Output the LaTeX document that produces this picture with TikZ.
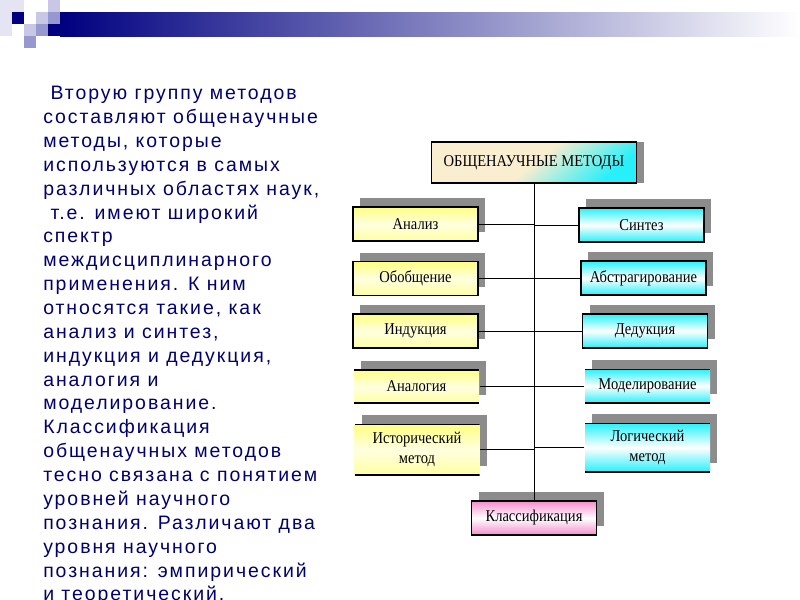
\documentclass[tikz,border=0pt]{standalone}
\usepackage{fontspec}
\setmainfont{Liberation Serif}
\newfontfamily\bodyfont[LetterSpace=10]{Liberation Sans}
\newfontfamily\boxfont[FakeStretch=0.88]{Liberation Serif}
\usetikzlibrary{shadows}

\definecolor{navytext}{RGB}{0,0,110}
\definecolor{navy}{RGB}{0,0,128}
\definecolor{lavlight}{RGB}{200,200,230}
\definecolor{lavmid}{RGB}{152,152,208}
\definecolor{lavpale}{RGB}{228,228,242}
\definecolor{shadowgray}{RGB}{140,140,140}
\definecolor{boxyellow}{RGB}{255,255,130}
\definecolor{boxcyan}{RGB}{40,240,250}
\definecolor{boxpink}{RGB}{244,140,205}
\definecolor{beige}{RGB}{250,238,208}

\begin{document}
\begin{tikzpicture}[x=0.75pt,y=-0.75pt,
    plain box/.style={line width=0.8pt,minimum width=93.75pt,minimum height=25.5pt,inner sep=1pt,align=center,
        font=\boxfont\fontsize{12.4}{15}\selectfont},
    method box/.style={plain box,
        drop shadow={shadow xshift=5.25pt,shadow yshift=6.75pt,fill=shadowgray,opacity=1}},
    left box/.style={method box,draw,top color=boxyellow,bottom color=boxyellow!75,middle color=yellow!12},
    right box/.style={method box,draw,top color=boxcyan,bottom color=boxcyan,middle color=white},
    open box/.style={draw=none,path picture={
        \draw[line width=1.6pt] (path picture bounding box.north west) -- (path picture bounding box.north east)
            (path picture bounding box.south west) -- (path picture bounding box.south east);}},
    link/.style={line width=0.75pt}]
            \clip (0,0) rectangle (800,600);
            \fill[white] (0,0) rectangle (800,600);

            % header bar and pixel squares
            \shade[left color=navy,right color=white] (60,12) rectangle (800,36);
            \fill[lavpale] (0,0) rectangle (24,12);
            \fill[lavpale] (0,12) rectangle (12,36);
            \fill[navy] (12,12) rectangle (24,24);
            \fill[lavlight] (36,12) rectangle (48,24);
            \fill[lavlight] (24,24) rectangle (36,36);
            \fill[lavmid] (36,24) rectangle (48,36);
            \fill[lavlight] (48,0) rectangle (60,12);
            \fill[lavmid] (48,12) rectangle (60,24);
            \fill[navy] (48,24) rectangle (60,36);
            \fill[lavmid] (24,36) rectangle (36,48);

            % text on the left
            \node[anchor=north west,inner sep=0pt,align=left,text=navytext,
                font=\bodyfont\fontsize{14.6}{17.9}\selectfont] (txt) at (43,86)
                {\mbox{}\ Вторую группу методов\\
                составляют общенаучные\\
                методы, которые\\
                используются в самых\\
                различных областях наук,\\
                \mbox{}\ т.е. имеют широкий\\
                спектр\\
                междисциплинарного\\
                применения. К ним\\
                относятся такие, как\\
                анализ и синтез,\\
                индукция и дедукция,\\
                аналогия и\\
                моделирование.\\
                Классификация\\
                общенаучных методов\\
                тесно связана с понятием\\
                уровней научного\\
                познания. Различают два\\
                уровня научного\\
                познания: эмпирический\\
                и теоретический.};

            % the scheme
            \node[plain box,draw,minimum width=153.75pt,minimum height=30.75pt,
                top color=beige,bottom color=boxcyan,middle color=beige,shading angle=40,
                drop shadow={shadow xshift=5.25pt,shadow yshift=0pt,fill=shadowgray,opacity=1}] (top) at (534,162.5) {ОБЩЕНАУЧНЫЕ МЕТОДЫ};

            \node[left box] (anal) at (415.5,224) {Анализ};
            \node[left box] (gener) at (415.5,278.5) {Обобщение};
            \node[left box] (induct) at (415.5,331) {Индукция};
            \node[left box,open box] (analog) at (416.5,386.5) {Аналогия};
            \node[left box,open box,minimum height=38.25pt] (hist) at (417,449.5) {Исторический\\метод};

            \node[right box] (synth) at (641.5,225) {Синтез};
            \node[right box] (abstr) at (643.5,278) {Абстрагирование};
            \node[right box] (deduct) at (645,331) {Дедукция};
            \node[right box,open box] (model) at (647.5,386) {Моделирование};
            \node[right box,open box,minimum height=36.75pt] (logic) at (647.5,447.5) {Логический\\метод};

            \node[method box,draw,top color=boxpink,bottom color=boxpink,middle color=white] (classif) at (534,518) {Классификация};

            \draw[link] (top.south) -- (classif.north);
            \draw[link] (anal.east) -- (anal -| top.south);
            \draw[link] (gener.east) -- (gener -| top.south);
            \draw[link] (induct.east) -- (induct -| top.south);
            \draw[link] (analog.east) -- (analog -| top.south);
            \draw[link] (hist.east) -- (hist -| top.south);
            \draw[link] (synth.west) -- (synth -| top.south);
            \draw[link] (abstr.west) -- (abstr -| top.south);
            \draw[link] (deduct.west) -- (deduct -| top.south);
            \draw[link] (model.west) -- (model -| top.south);
            \draw[link] (logic.west) -- (logic -| top.south);
\end{tikzpicture}
\end{document}
